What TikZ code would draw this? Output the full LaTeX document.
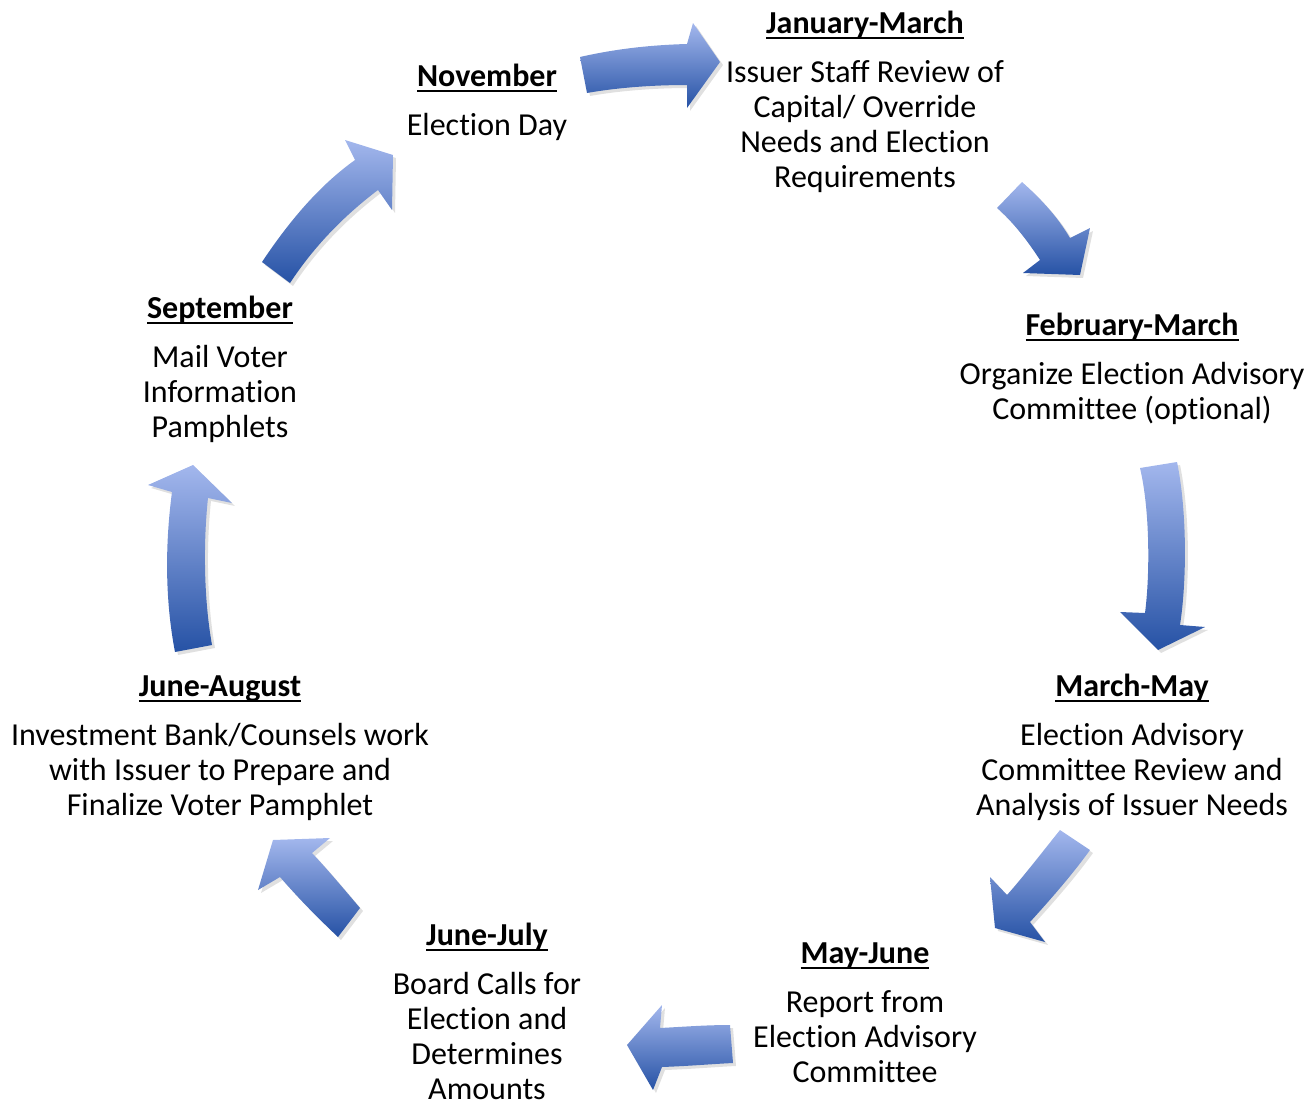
\documentclass[tikz,border=0pt]{standalone}
\usepackage{fontspec}
\setmainfont{Carlito}[Ligatures=NoCommon]
\definecolor{arrowlight}{RGB}{163,183,237}
\definecolor{arrowdark}{RGB}{38,82,165}
\newcommand{\hd}[1]{\setbox0\hbox{\textbf{#1}}\rlap{\rule[-5.5pt]{\wd0}{1.8pt}}\box0\strut}
\newcommand{\blockarr}[1]{\fill[shadowarrow] #1; \path[blockarrow] #1;}
\begin{document}
\begin{tikzpicture}[x=1pt,y=-1pt,
  lbl/.style={align=center,font=\fontsize{32}{35}\selectfont,inner sep=0pt,anchor=north},
  blockarrow/.style={top color=arrowlight,bottom color=arrowdark,draw=none},
  shadowarrow/.style={fill=black,opacity=0.12,draw=none,xshift=3pt,yshift=-3pt}]
\useasboundingbox (0,0) rectangle (1307,1100);

% labels: y = heading baseline - 24.5 (strut height)
\node[lbl] (nov)  at (487,61.5)   {\hd{November}\\[14pt]Election Day};
\node[lbl] (jan)  at (865,8.5)    {\hd{January-March}\\[14pt]Issuer Staff Review of\\Capital/ Override\\Needs and Election\\Requirements};
\node[lbl] (feb)  at (1132,310.5) {\hd{February-March}\\[14pt]Organize Election Advisory\\Committee (optional)};
\node[lbl] (mar)  at (1132,671.5) {\hd{March-May}\\[14pt]Election Advisory\\Committee Review and\\Analysis of Issuer Needs};
\node[lbl] (may)  at (865,938.5)  {\hd{May-June}\\[14pt]Report from\\Election Advisory\\Committee};
\node[lbl] (jul)  at (487,920.5)  {\hd{June-July}\\[14pt]Board Calls for\\Election and\\Determines\\Amounts};
\node[lbl] (aug)  at (220,671.5)  {\hd{June-August}\\[14pt]Investment Bank/Counsels work\\with Issuer to Prepare and\\Finalize Voter Pamphlet};
\node[lbl] (sep)  at (220,293.5)  {\hd{September}\\[14pt]Mail Voter\\Information\\Pamphlets};

% block arrows of the cycle
\blockarr{(580,57) .. controls (615,49) and (650,45) .. (687,44) -- (693,23) -- (720,62) -- (687,108) -- (687,85) .. controls (650,85) and (615,88) .. (587,93) -- cycle}
\blockarr{(1022,182) .. controls (1040,198) and (1057,216) .. (1070,238) -- (1090,228) -- (1080,275) -- (1023,273) -- (1040,260) .. controls (1027,240) and (1013,222) .. (997,208) -- cycle}
\blockarr{(1177,462) .. controls (1187,510) and (1187,580) .. (1180,625) -- (1205,627) -- (1158,650) -- (1120,612) -- (1145,613) .. controls (1150,575) and (1150,510) .. (1140,468) -- cycle}
\blockarr{(1060,830) .. controls (1040,855) and (1023,877) .. (1007,895) -- (990,877) -- (995,928) -- (1045,942) -- (1030,922) .. controls (1050,900) and (1072,875) .. (1090,850) -- cycle}
\blockarr{(730,1025) .. controls (705,1025) and (680,1027) .. (660,1028) -- (662,1005) -- (627,1045) -- (653,1090) -- (662,1067) .. controls (690,1066) and (712,1064) .. (733,1063) -- cycle}
\blockarr{(360,908) .. controls (343,888) and (328,870) .. (312,853) -- (330,838) -- (273,840) -- (258,890) -- (280,877) .. controls (300,900) and (318,918) .. (338,937) -- cycle}
\blockarr{(212,645) .. controls (204,600) and (203,545) .. (208,498) -- (232,503) -- (193,465) -- (148,485) -- (172,492) .. controls (165,545) and (165,600) .. (175,652) -- cycle}
\blockarr{(262,262) .. controls (290,220) and (320,185) .. (355,160) -- (345,140) -- (393,155) -- (392,210) -- (378,190) .. controls (345,215) and (315,245) .. (290,283) -- cycle}
\end{tikzpicture}
\end{document}
